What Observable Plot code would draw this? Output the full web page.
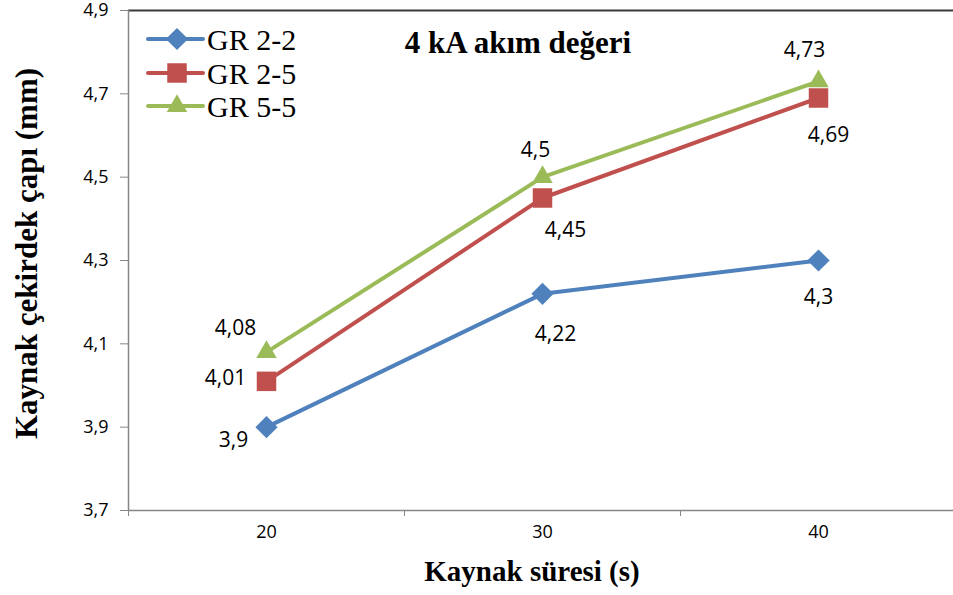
<!DOCTYPE html>
<html>
<head>
<meta charset="utf-8">
<script src="https://cdn.jsdelivr.net/npm/d3@7"></script>
<script src="https://cdn.jsdelivr.net/npm/@observablehq/plot@0.6"></script>
<style>
  html, body { margin: 0; padding: 0; background: #fff; }
  #wrap { position: relative; width: 953px; height: 595px; overflow: hidden; }
  #title { position: absolute; left: 518px; top: 43px; transform: translate(-50%, -50%);
    font-family: "Liberation Serif", "Times New Roman", serif; font-weight: bold; font-size: 31px; white-space: nowrap; }
  #legend { position: absolute; left: 140px; top: 20px; }
</style>
</head>
<body>
<div id="wrap">
  <div id="chart"></div>
  <div id="title">4 kA akım değeri</div>
  <svg id="legend" width="200" height="110"></svg>
</div>
<script>
const categories = [20, 30, 40];
const gr22 = [3.9, 4.22, 4.3];
const gr25 = [4.01, 4.45, 4.69];
const gr55 = [4.08, 4.5, 4.73];
const seriesNames = ["GR 2-2", "GR 2-5", "GR 5-5"];
const yTicks = [3.7, 3.9, 4.1, 4.3, 4.5, 4.7, 4.9];
const xTickLabels = ["20", "30", "40"];

const seriesValues = [gr22, gr25, gr55];
const colors = ["#4F81BD", "#C0504D", "#9BBB59"];
const symbols = ["diamond2", "square", "triangle"];
const symbolR = [10, 11, 7.6];
// label offsets (layout only)
const labelOffsets = [
  [[-33, 13], [13, 40], [0, 37]],
  [[-41, -3], [23, 32], [10, 37]],
  [[-31, -24], [-7, -27], [-14, -31]]
];

const fmt = d => String(d).replace(".", ",");
const boundaries = [15, 25, 35];

const marks = [
  Plot.ruleY([4.9], {stroke: "#3a3a3a", strokeWidth: 2}),
  Plot.ruleY([3.7], {stroke: "#868686", strokeWidth: 1.5}),
  Plot.ruleX([15], {stroke: "#868686", strokeWidth: 1.5}),
  Plot.axisY({ticks: yTicks, tickFormat: () => "", tickSize: 8, stroke: "#868686", label: null}),
  Plot.axisX({ticks: boundaries, tickFormat: () => "", tickSize: 6, stroke: "#868686", label: null}),
  Plot.text(yTicks, {x: () => 15, y: d => d, text: fmt, textAnchor: "end", dx: -20,
    fontSize: 18, fontFamily: "Open Sans", fill: "#000"}),
  Plot.text(categories, {x: d => d, frameAnchor: "bottom", text: d => xTickLabels[categories.indexOf(d)], dy: 27,
    fontSize: 18, fontFamily: "Open Sans", fill: "#000"}),
  Plot.text(["Kaynak süresi (s)"], {frameAnchor: "bottom", dy: 70, dx: -9, text: d => d, fontSize: 29,
    fontWeight: "bold", fontFamily: "Liberation Serif", fill: "#000"}),
  Plot.text(["Kaynak çekirdek çapı (mm)"], {frameAnchor: "left", textAnchor: "middle", dx: -101, dy: -7, rotate: -90, text: d => d,
    fontSize: 31, fontWeight: "bold", fontFamily: "Liberation Serif", fill: "#000"})
];

seriesValues.forEach((vals, s) => {
  const data = categories.map((c, i) => ({x: c, y: vals[i]}));
  marks.push(Plot.line(data, {x: "x", y: "y", stroke: colors[s], strokeWidth: 4, strokeLinejoin: "round"}));
});
seriesValues.forEach((vals, s) => {
  const data = categories.map((c, i) => ({x: c, y: vals[i]}));
  marks.push(Plot.dot(data, {x: "x", y: "y", symbol: () => symbols[s], r: symbolR[s], fill: colors[s], stroke: "none"}));
});
seriesValues.forEach((vals, s) => {
  categories.forEach((c, i) => {
    marks.push(Plot.text([{x: c, y: vals[i]}], {x: "x", y: "y", text: d => fmt(d.y),
      dx: labelOffsets[s][i][0], dy: labelOffsets[s][i][1], fontSize: 21, fontFamily: "Open Sans", fill: "#000"}));
  });
});

const chart = Plot.plot({
  width: 953,
  height: 595,
  marginLeft: 128,
  marginRight: 0,
  marginTop: 10,
  marginBottom: 85,
  x: {domain: [15, 45], range: [128, 956]},
  y: {domain: [3.7, 4.9]},
  symbol: {type: "identity"},
  style: {background: "#fff", overflow: "visible", fontFamily: "Open Sans"},
  marks
});
document.getElementById("chart").appendChild(chart);

// legend
const lg = d3.select("#legend");
const rowY = [19, 53, 86];
const symMap = {diamond2: d3.symbolDiamond2, square: d3.symbolSquare, triangle: d3.symbolTriangle};
seriesNames.forEach((name, s) => {
  const g = lg.append("g").attr("transform", `translate(0,${rowY[s]})`);
  g.append("line").attr("x1", 8).attr("x2", 63).attr("y1", 0).attr("y2", 0)
    .attr("stroke", colors[s]).attr("stroke-width", 4).attr("stroke-linecap", "round");
  g.append("path").attr("transform", "translate(37,0)")
    .attr("d", d3.symbol(symMap[symbols[s]], Math.PI * symbolR[s] * symbolR[s])())
    .attr("fill", colors[s]);
  g.append("text").attr("x", 67).attr("y", 0).attr("dy", "0.35em")
    .attr("font-family", "Liberation Serif").attr("font-size", 30).attr("fill", "#000").text(name);
});
</script>
</body>
</html>
